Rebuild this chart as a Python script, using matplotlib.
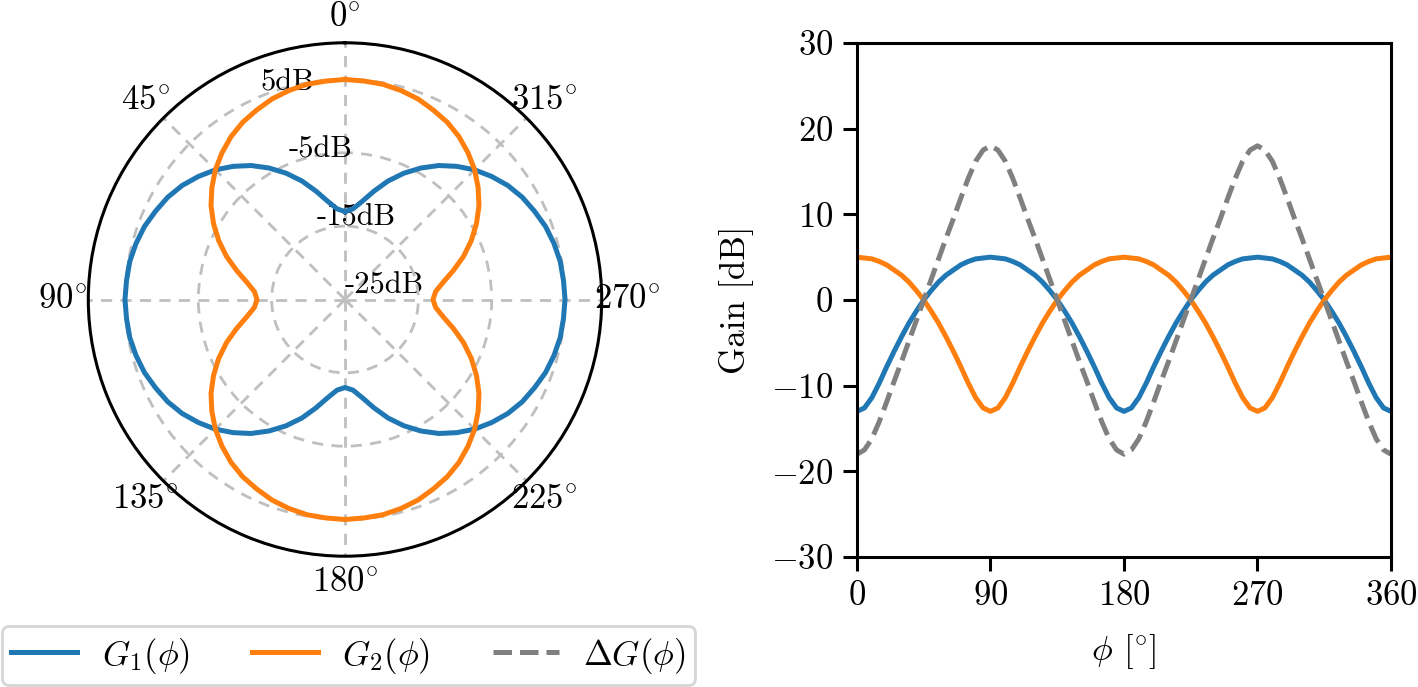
import numpy as np
import matplotlib
matplotlib.use("Agg")
import matplotlib.pyplot as plt

plt.rcParams['font.family'] = ['cmr10', 'DejaVu Serif']
plt.rcParams['mathtext.fontset'] = 'cm'
plt.rcParams['axes.formatter.use_mathtext'] = True
plt.rcParams['font.size'] = 12.5

# azimuth angle [deg], 5 deg steps
phi_deg = np.arange(0, 361, 5)

# gain of antenna 1 [dB]
g1_db = [-13.0, -12.6, -11.4, -9.7, -7.8, -6.0, -4.3, -2.7, -1.3, 0.0,
         1.1, 2.1, 2.9, 3.5, 4.1, 4.5, 4.8, 4.9, 5.0,
         4.9, 4.8, 4.5, 4.1, 3.5, 2.9, 2.1, 1.1, 0.0,
         -1.3, -2.7, -4.3, -6.0, -7.8, -9.7, -11.4, -12.6, -13.0,
         -12.6, -11.4, -9.7, -7.8, -6.0, -4.3, -2.7, -1.3, 0.0,
         1.1, 2.1, 2.9, 3.5, 4.1, 4.5, 4.8, 4.9, 5.0,
         4.9, 4.8, 4.5, 4.1, 3.5, 2.9, 2.1, 1.1, 0.0,
         -1.3, -2.7, -4.3, -6.0, -7.8, -9.7, -11.4, -12.6, -13.0]

# gain of antenna 2 [dB]
g2_db = [5.0, 4.9, 4.8, 4.5, 4.1, 3.5, 2.9, 2.1, 1.1, 0.0,
         -1.3, -2.7, -4.3, -6.0, -7.8, -9.7, -11.4, -12.6, -13.0,
         -12.6, -11.4, -9.7, -7.8, -6.0, -4.3, -2.7, -1.3, 0.0,
         1.1, 2.1, 2.9, 3.5, 4.1, 4.5, 4.8, 4.9, 5.0,
         4.9, 4.8, 4.5, 4.1, 3.5, 2.9, 2.1, 1.1, 0.0,
         -1.3, -2.7, -4.3, -6.0, -7.8, -9.7, -11.4, -12.6, -13.0,
         -12.6, -11.4, -9.7, -7.8, -6.0, -4.3, -2.7, -1.3, 0.0,
         1.1, 2.1, 2.9, 3.5, 4.1, 4.5, 4.8, 4.9, 5.0]

g1_db = np.array(g1_db)
g2_db = np.array(g2_db)
delta_db = g1_db - g2_db

r_ticks = [-25, -15, -5, 5]
theta_ticks = [0, 45, 90, 135, 180, 225, 270, 315]
x_ticks = [0, 90, 180, 270, 360]
y_ticks = [-30, -20, -10, 0, 10, 20, 30]

c1, c2, c3 = '#1f77b4', '#ff7f0e', 'gray'
lw = 1.8

W, H = 1418, 687
fig = plt.figure(figsize=(W / 200, H / 200), dpi=200)

# polar pattern
axp = fig.add_axes([88.3 / W, (H - 556.2) / H, 513.4 / W, 513.4 / H], projection='polar')
axp.set_theta_zero_location('N')
axp.set_ylim(-25, 10)
axp.set_rticks(r_ticks)
axp.set_yticklabels([f"{r}dB" for r in r_ticks], fontsize=11)
# angle labels placed by hand just outside the rim
axp.set_thetagrids(theta_ticks, labels=[''] * len(theta_ticks))
for t in theta_ticks:
    axp.text(np.deg2rad(t), 13.5, rf"${t}^{{\circ}}$", ha='center', va='center',
             clip_on=False)
axp.grid(True, ls=(0, (4, 3)), color='0.75', lw=1.0)
axp.spines['polar'].set_linewidth(1.1)
th = np.deg2rad(phi_deg)
axp.plot(th, g1_db, color=c1, lw=lw)
axp.plot(th, g2_db, color=c2, lw=lw)

# cartesian gain
ax = fig.add_axes([857 / W, (H - 557) / H, 534 / W, 514 / H])
l1, = ax.plot(phi_deg, g1_db, color=c1, lw=lw, label=r'$G_1(\phi)$')
l2, = ax.plot(phi_deg, g2_db, color=c2, lw=lw, label=r'$G_2(\phi)$')
l3, = ax.plot(phi_deg, delta_db, color=c3, lw=lw, ls='--', label=r'$\Delta G(\phi)$')
ax.set_xlim(0, 360)
ax.set_ylim(-30, 30)
ax.set_xticks(x_ticks)
ax.set_yticks(y_ticks)
ax.set_xlabel(r'$\phi$ [$^{\circ}$]', labelpad=7)
ax.set_ylabel('Gain [dB]', labelpad=6)
for s in ax.spines.values():
    s.set_linewidth(1.1)
ax.tick_params(width=1.1, length=5)

fig.legend(handles=[l1, l2, l3], loc='lower left', bbox_to_anchor=(0, 0),
           ncol=3, borderaxespad=0.05, borderpad=0.28, handlelength=1.9,
           handletextpad=0.7, columnspacing=1.8)

fig.savefig('out.png', dpi=200)
